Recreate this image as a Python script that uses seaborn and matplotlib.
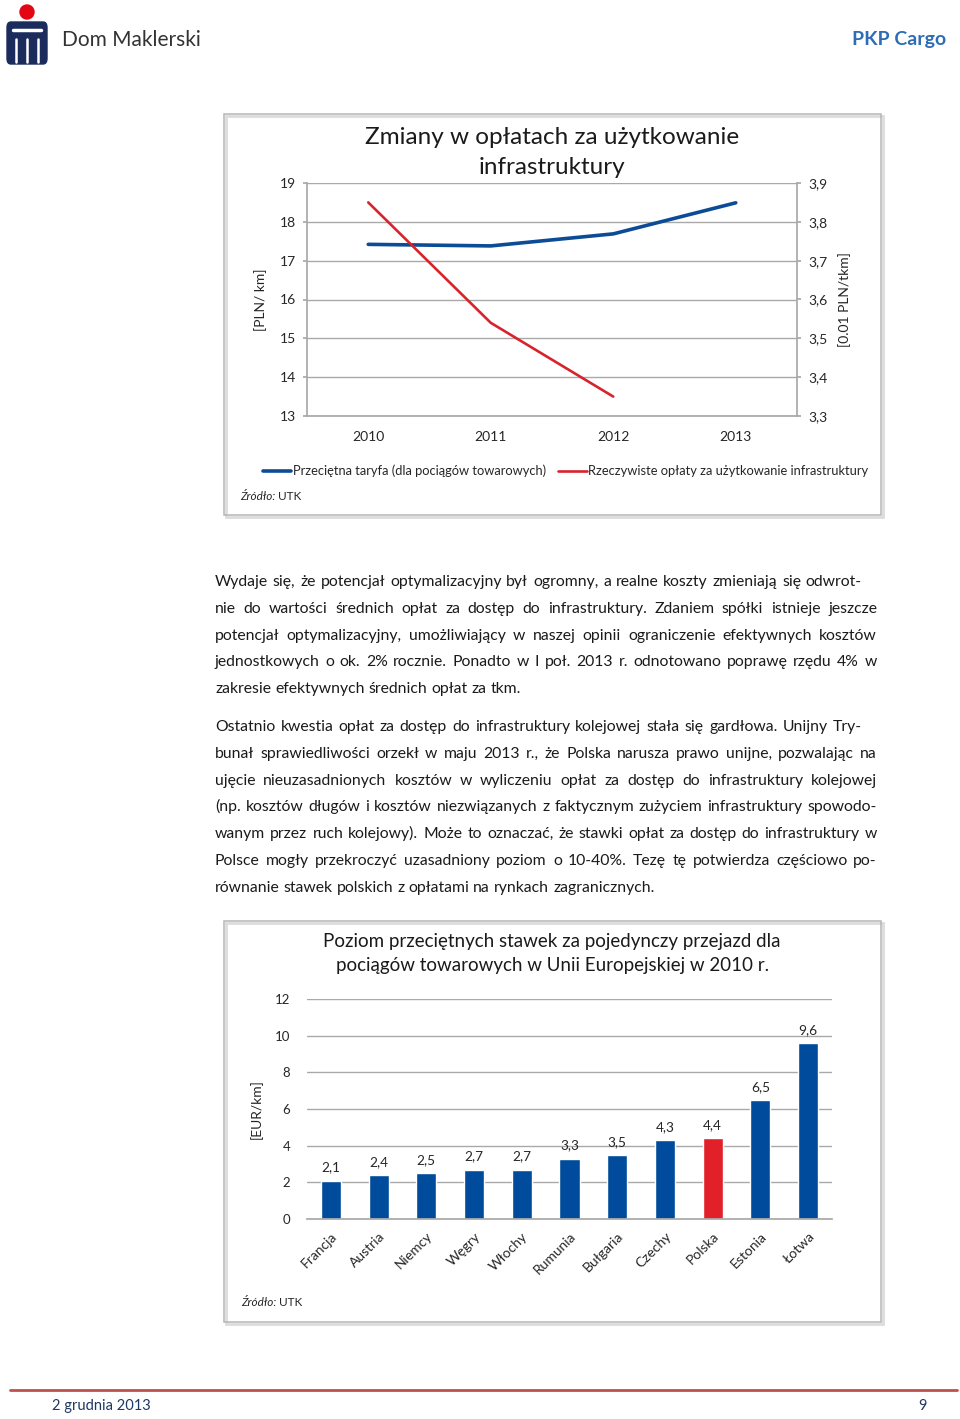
import matplotlib
matplotlib.use("Agg")
import numpy as np
import pandas as pd
import matplotlib.pyplot as plt
import seaborn as sns
from matplotlib.patches import Rectangle, Ellipse, FancyBboxPatch
from matplotlib.lines import Line2D

# --- dane: wykres liniowy (opłaty za infrastrukturę) ---
years = [2010, 2011, 2012, 2013]
tariff = [17.42, 17.38, 17.69, 18.49]        # [PLN/km] - lewa oś
charges = [3.85, 3.54, 3.35, np.nan]         # [0.01 PLN/tkm] - prawa oś
left_ticks = [13, 14, 15, 16, 17, 18, 19]
right_ticks = [3.3, 3.4, 3.5, 3.6, 3.7, 3.8, 3.9]
tariff_name = "Przeciętna taryfa (dla pociągów towarowych)"
charges_name = "Rzeczywiste opłaty za użytkowanie infrastruktury"

# --- dane: wykres słupkowy (stawki w UE, 2010) ---
countries = ["Francja", "Austria", "Niemcy", "Węgry", "Włochy", "Rumunia",
             "Bułgaria", "Czechy", "Polska", "Estonia", "Łotwa"]
rates = [2.1, 2.4, 2.5, 2.7, 2.7, 3.3, 3.5, 4.3, 4.4, 6.5, 9.6]
bar_ticks = [0, 2, 4, 6, 8, 10, 12]
highlight = "Polska"

# --- tekst raportu (linia, czy wyjustowana, prawy margines) ---
para1 = [
    ("Wydaje się, że potencjał optymalizacyjny był ogromny, a realne koszty zmieniają się odwrot-", True, 862),
    ("nie do wartości średnich opłat za dostęp do infrastruktury.  Zdaniem spółki istnieje jeszcze", True, 877),
    ("potencjał optymalizacyjny, umożliwiający w naszej opinii ograniczenie efektywnych kosztów", True, 877),
    ("jednostkowych o ok. 2% rocznie. Ponadto w I poł. 2013 r. odnotowano poprawę rzędu 4% w", True, 877),
    ("zakresie efektywnych średnich opłat za tkm.", False, 877),
]
para2 = [
    ("Ostatnio kwestia opłat za dostęp do infrastruktury kolejowej stała się gardłowa.  Unijny Try-", True, 862),
    ("bunał sprawiedliwości orzekł w maju 2013 r., że Polska narusza prawo unijne, pozwalając na", True, 877),
    ("ujęcie nieuzasadnionych kosztów w wyliczeniu opłat za dostęp do infrastruktury kolejowej", True, 877),
    ("(np. kosztów długów i kosztów niezwiązanych z faktycznym zużyciem infrastruktury spowodo-", True, 877),
    ("wanym przez ruch kolejowy).  Może to oznaczać, że stawki opłat za dostęp do infrastruktury w", True, 877),
    ("Polsce mogły przekroczyć uzasadniony poziom o 10-40%. Tezę tę potwierdza częściowo po-", True, 877),
    ("równanie stawek polskich z opłatami na rynkach zagranicznych.", False, 877),
]

BLUE = "#004b9b"
RED = "#e2202a"
LINE_BLUE = "#0c4c96"
LINE_RED = "#d8232c"
GRID = "#a9a9a9"
TXT = "#262626"
BODY_SIZE = 11.3

sns.set_theme(style="white")
plt.rcParams['font.family'] = ['Lato', 'DejaVu Sans']

W, H = 960, 1419
fig = plt.figure(figsize=(9.6, 14.19), dpi=100)
renderer = fig.canvas.get_renderer()


def fx(px):
    return px / W


def fy(py):
    return 1 - py / H


# ---------------- nagłówek ----------------
fig.add_artist(Ellipse((fx(27), fy(12)), 14 / W, 14 / H, transform=fig.transFigure,
                       color="#e30613", zorder=3))
fig.add_artist(FancyBboxPatch((fx(7), fy(64)), fx(40), 42 / H, boxstyle="round,pad=0,rounding_size=0.004",
                              transform=fig.transFigure, color="#1b2b5c", zorder=3))
fig.add_artist(Line2D([fx(13), fx(41)], [fy(30), fy(30)], color="white", lw=2.5,
                      transform=fig.transFigure, zorder=4))
for xx in [16, 27, 38]:
    fig.add_artist(Line2D([fx(xx), fx(xx)], [fy(39), fy(62)], color="white", lw=1.8,
                          transform=fig.transFigure, zorder=4))
fig.text(fx(62), fy(40), "Dom Maklerski", fontsize=15, color="#333333", va="center")
fig.text(fx(946), fy(40), "PKP Cargo", fontsize=14, weight="bold", color="#2e6db4",
         va="center", ha="right")


# ---------------- ramki wykresów ----------------
def frame(top, bottom):
    fig.add_artist(Rectangle((fx(226), fy(bottom + 2)), fx(881) - fx(224), fy(top) - fy(bottom),
                             transform=fig.transFigure, fill=False, ec="#dcdcdc", lw=2, zorder=0))
    fig.add_artist(Rectangle((fx(224), fy(bottom)), fx(881) - fx(224), fy(top) - fy(bottom),
                             transform=fig.transFigure, fill=False, ec="#b5b5b5", lw=1.1, zorder=0))


frame(114, 515)
frame(921, 1322)

# ---------------- wykres 1: linie ----------------
df1 = pd.DataFrame({"rok": years, "taryfa": tariff, "oplaty": charges})

ax1 = fig.add_axes([fx(307), fy(416), fx(797) - fx(307), fy(183) - fy(416)])
ax1.set_facecolor("none")
ax2 = ax1.twinx()
sns.lineplot(data=df1, x="rok", y="taryfa", ax=ax1, color=LINE_BLUE, lw=2.6, legend=False)
sns.lineplot(data=df1, x="rok", y="oplaty", ax=ax2, color=LINE_RED, lw=1.9, legend=False)

ax1.set_xlim(2009.5, 2013.5)
ax1.set_xticks(years)
ax1.set_xticklabels([str(y) for y in years])
ax1.set_ylim(13, 19)
ax1.set_yticks(left_ticks)
ax1.yaxis.grid(True, color=GRID, lw=1)
ax1.set_axisbelow(True)
ax2.set_ylim(3.3, 3.9)
ax2.set_yticks(right_ticks)
ax2.set_yticklabels([f"{t:.1f}".replace(".", ",") for t in right_ticks])

for a in (ax1, ax2):
    for s in a.spines.values():
        s.set_visible(False)
ax1.spines["left"].set_visible(True)
ax1.spines["left"].set_color(GRID)
ax1.spines["bottom"].set_visible(True)
ax1.spines["bottom"].set_color(GRID)
ax2.spines["right"].set_visible(True)
ax2.spines["right"].set_color(GRID)

ax1.tick_params(axis="x", length=0, pad=11, labelsize=10, labelcolor=TXT)
ax1.tick_params(axis="y", left=True, length=3, color=GRID, pad=5, labelsize=10, labelcolor=TXT)
ax2.tick_params(axis="y", right=True, length=3, color=GRID, pad=5, labelsize=10, labelcolor=TXT)
ax1.set_xlabel("")
ax1.set_ylabel("[PLN/ km]", fontsize=10, color=TXT, labelpad=9)
ax2.set_ylabel("[0.01 PLN/tkm]", fontsize=10, color=TXT, labelpad=8, rotation=90)

fig.text(fx(552), fy(138), "Zmiany w opłatach za użytkowanie", ha="center", va="center",
         fontsize=17.5, color="#1a1a1a")
fig.text(fx(552), fy(167), "infrastruktury", ha="center", va="center", fontsize=17.5, color="#1a1a1a")

handles = [Line2D([], [], color=LINE_BLUE, lw=2.6), Line2D([], [], color=LINE_RED, lw=1.9)]
fig.legend(handles, [tariff_name, charges_name], loc="center left",
           bbox_to_anchor=(fx(263), fy(471)), ncol=2, frameon=False, fontsize=9.3,
           handlelength=2.2, handletextpad=0.15, columnspacing=0.9, borderaxespad=0,
           borderpad=0, labelcolor=TXT)


def source(x, y):
    t = fig.text(fx(x), fy(y), "Źródło:", style="italic", fontsize=8.5, color=TXT, va="center")
    w = t.get_window_extent(renderer).width
    fig.text(fx(x + w + 3), fy(y), "UTK", fontsize=8.5, color=TXT, va="center")


source(240, 497)

# ---------------- tekst ----------------
tmp_a = fig.text(0, 0, "aa", fontsize=BODY_SIZE)
tmp_b = fig.text(0, 0, "a a", fontsize=BODY_SIZE)
space_w = tmp_b.get_window_extent(renderer).width - tmp_a.get_window_extent(renderer).width
tmp_a.remove()
tmp_b.remove()


def text_line(s, y, x0, x1, justify):
    words = s.split()
    objs = [fig.text(0, fy(y), w, fontsize=BODY_SIZE, color="#1a1a1a", va="baseline") for w in words]
    widths = [o.get_window_extent(renderer).width for o in objs]
    gap = space_w
    if justify and len(words) > 1:
        gap = (x1 - x0 - sum(widths)) / (len(words) - 1)
    x = x0
    for o, w in zip(objs, widths):
        o.set_x(fx(x))
        x += w + gap


for i, (s, j, r) in enumerate(para1):
    text_line(s, 586 + i * 26.8, 215, r, j)
for i, (s, j, r) in enumerate(para2):
    text_line(s, 731 + i * 26.8, 215, r, j)

# ---------------- wykres 2: słupki ----------------
df2 = pd.DataFrame({"kraj": countries, "stawka": rates})
palette = {c: (RED if c == highlight else BLUE) for c in countries}

ax3 = fig.add_axes([fx(307), fy(1219), fx(832) - fx(307), fy(999) - fy(1219)])
sns.barplot(data=df2, x="kraj", y="stawka", hue="kraj", palette=palette, legend=False,
            width=0.42, saturation=1, ax=ax3)
ax3.set_ylim(0, 12)
ax3.set_yticks(bar_ticks)
ax3.yaxis.grid(True, color=GRID, lw=1)
ax3.set_axisbelow(True)
for s in ax3.spines.values():
    s.set_visible(False)
ax3.spines["bottom"].set_visible(True)
ax3.spines["bottom"].set_color(GRID)
ax3.tick_params(axis="y", length=0, pad=12, labelsize=9.5, labelcolor=TXT)
ax3.tick_params(axis="x", length=0, pad=8, labelsize=10, labelcolor=TXT)
plt.setp(ax3.get_xticklabels(), rotation=45, ha="right", rotation_mode="anchor")
ax3.set_xlabel("")
ax3.set_ylabel("[EUR/km]", fontsize=10, color=TXT, labelpad=9)

for cont, v in zip(ax3.containers, rates):
    ax3.bar_label(cont, labels=[f"{v:.1f}".replace(".", ",")], padding=5, fontsize=9.8, color=TXT)

fig.text(fx(552), fy(941), "Poziom przeciętnych stawek za pojedynczy przejazd dla", ha="center",
         va="center", fontsize=13.5, color="#1a1a1a")
fig.text(fx(552), fy(965), "pociągów towarowych w Unii Europejskiej w 2010 r.", ha="center",
         va="center", fontsize=13.5, color="#1a1a1a")

source(241, 1302)

# ---------------- stopka ----------------
fig.add_artist(Line2D([fx(10), fx(957)], [fy(1390), fy(1390)], color="#c0504d", lw=2,
                      transform=fig.transFigure))
fig.text(fx(52), fy(1406), "2 grudnia 2013", fontsize=10.5, color="#1f3864", va="center")
fig.text(fx(922), fy(1406), "9", fontsize=10.5, color="#1f3864", va="center", ha="center")

fig.savefig("out.png", dpi=100)
